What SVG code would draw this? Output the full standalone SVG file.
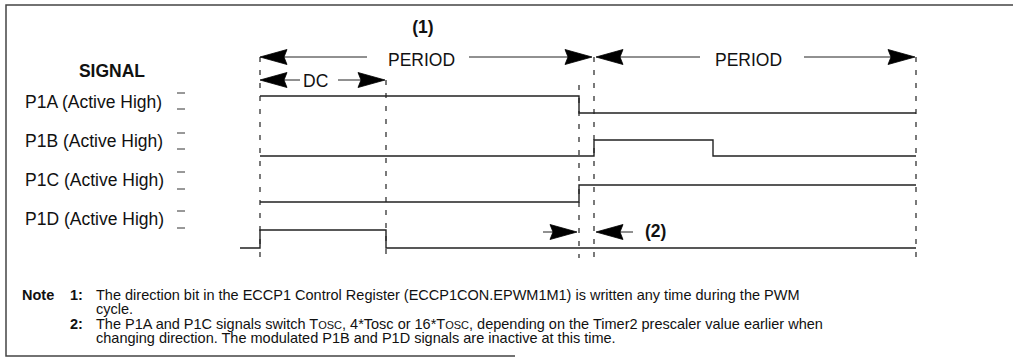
<svg xmlns="http://www.w3.org/2000/svg" width="1020" height="358" viewBox="0 0 1020 358">
<style>
text{font-family:"Liberation Sans",Arial,sans-serif;fill:#111}
.lbl{font-size:17.5px}
.b{font-weight:bold}
.note{font-size:14.5px}
.sig{fill:none;stroke:#222;stroke-width:1.4}
.dash{fill:none;stroke:#222;stroke-width:1.2;stroke-dasharray:5 8}
.arr{fill:none;stroke:#222;stroke-width:1}
.head{fill:#000;stroke:#000;stroke-width:0.8;stroke-linejoin:miter}
.tick{stroke:#333;stroke-width:1}
.frame{fill:none;stroke:#444;stroke-width:1.5}
</style>
<defs>
<path id="hd" class="head" d="M0,0 L-27,-7.5 L-24,0 L-27,7.5 Z"/>
</defs>
<rect width="1020" height="358" fill="#fff"/>
<path class="frame" d="M1013,5 H6 V356 H515"/>

<g id="labels">
<text class="lbl b" x="112" y="77" text-anchor="middle">SIGNAL</text>
<text class="lbl b" x="423" y="33" text-anchor="middle">(1)</text>
<text class="lbl" x="388" y="66">PERIOD</text>
<text class="lbl" x="715" y="66">PERIOD</text>
<text class="lbl" x="303" y="87">DC</text>
<text class="lbl b" x="645" y="237">(2)</text>
</g>

<g id="P1A">
<text class="lbl" x="25" y="108">P1A (Active High)</text>
<line class="tick" x1="177" y1="93" x2="185" y2="93"/>
<line class="tick" x1="177" y1="109" x2="185" y2="109"/>
<path class="sig" d="M260,96 H579 V113 H916"/>
</g>
<g id="P1B">
<text class="lbl" x="25" y="147">P1B (Active High)</text>
<line class="tick" x1="177" y1="133" x2="185" y2="133"/>
<line class="tick" x1="177" y1="149" x2="185" y2="149"/>
<path class="sig" d="M260,156 H594 V140 H713 V156 H916"/>
</g>
<g id="P1C">
<text class="lbl" x="25" y="186">P1C (Active High)</text>
<line class="tick" x1="177" y1="172" x2="185" y2="172"/>
<line class="tick" x1="177" y1="189" x2="185" y2="189"/>
<path class="sig" d="M260,202 H579 V185 H916"/>
</g>
<g id="P1D">
<text class="lbl" x="25" y="225">P1D (Active High)</text>
<line class="tick" x1="177" y1="211" x2="185" y2="211"/>
<line class="tick" x1="177" y1="228" x2="185" y2="228"/>
<path class="sig" d="M240,248 H260 V230 H386 V248 H916"/>
</g>

<g id="connectors">
<line class="dash" x1="260" y1="57" x2="260" y2="258"/>
<line class="dash" x1="386" y1="80" x2="386" y2="258"/>
<line class="dash" x1="579" y1="85" x2="579" y2="258"/>
<line class="dash" x1="594" y1="57" x2="594" y2="258"/>
<line class="dash" x1="916" y1="57" x2="916" y2="260"/>
<line class="arr" x1="367" y1="57" x2="280" y2="57"/>
<use href="#hd" transform="translate(260,57) rotate(180)"/>
<line class="arr" x1="469" y1="57" x2="570" y2="57"/>
<use href="#hd" transform="translate(592,57)"/>
<line class="arr" x1="700" y1="57" x2="615" y2="57"/>
<use href="#hd" transform="translate(596,57) rotate(180)"/>
<line class="arr" x1="804" y1="57" x2="895" y2="57"/>
<use href="#hd" transform="translate(915,57)"/>
<line class="arr" x1="300" y1="80" x2="280" y2="80"/>
<use href="#hd" transform="translate(260,80) rotate(180)"/>
<line class="arr" x1="338" y1="80" x2="365" y2="80"/>
<use href="#hd" transform="translate(385,80)"/>
<line class="arr" x1="543" y1="232" x2="558" y2="232"/>
<use href="#hd" transform="translate(577,232)"/>
<line class="arr" x1="633" y1="232" x2="615" y2="232"/>
<use href="#hd" transform="translate(596,232) rotate(180)"/>
</g>

<g id="notes">
<text class="note b" x="22" y="299.5">Note</text>
<text class="note b" x="70" y="299.5">1:</text>
<text class="note" x="96" y="299.5">The direction bit in the ECCP1 Control Register (ECCP1CON.EPWM1M1) is written any time during the PWM</text>
<text class="note" x="96" y="314">cycle.</text>
<text class="note b" x="70" y="328.5">2:</text>
<text class="note" x="96" y="328.5">The P1A and P1C signals switch T<tspan font-size="11">OSC</tspan>, 4*Tosc or 16*T<tspan font-size="11">OSC</tspan>, depending on the Timer2 prescaler value earlier when</text>
<text class="note" x="96" y="343">changing direction. The modulated P1B and P1D signals are inactive at this time.</text>
</g>
</svg>
